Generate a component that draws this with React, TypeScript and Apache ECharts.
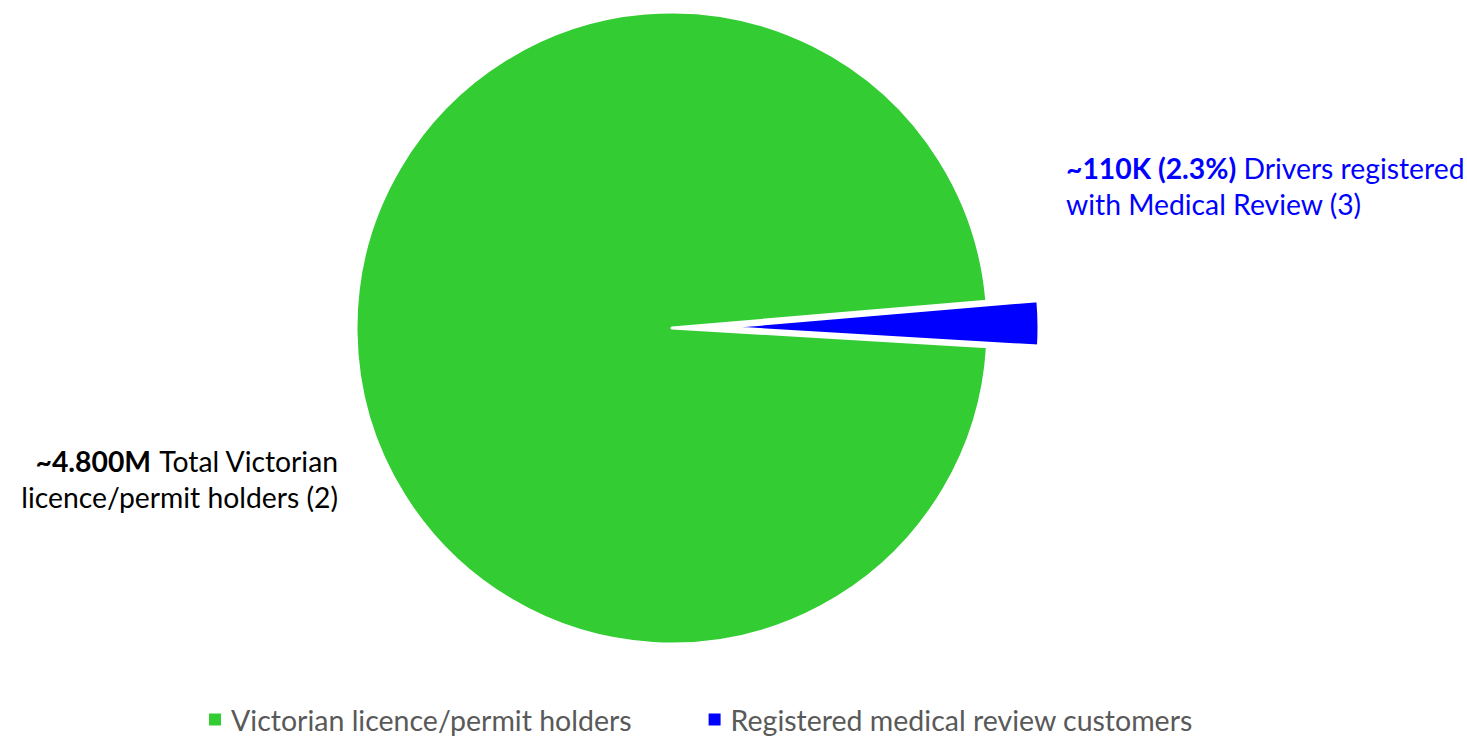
import React, { useEffect, useRef } from "react";
import * as echarts from "echarts";

const categories = ["Victorian licence/permit holders", "Registered medical review customers"];
const values = [4690000, 110000];
const colors = ["#33CC33", "#0000FF"];
const labelBold = ["~4.800M", "~110K (2.3%)"];
const labelRest = [["Total Victorian", "licence/permit holders (2)"], ["Drivers registered", "with Medical Review (3)"]];

const FONT = "Lato";

export default function App() {
  const ref = useRef<HTMLDivElement>(null);
  useEffect(() => {
    document.body.style.margin = "0";
    const chart = echarts.init(ref.current!, null, { renderer: "svg" });
    const labelText = (i: number) => `{b|${labelBold[i]}}{n| ${labelRest[i][0]}}\n{n|${labelRest[i][1]}}`;
    const rich = (color: string) => ({
      b: { fontFamily: FONT, fontSize: 28.3, fontWeight: "bold", fill: color, lineHeight: 36 },
      n: { fontFamily: FONT, fontSize: 28.3, fill: color, lineHeight: 36 },
    });
    chart.setOption({
      animation: false,
      backgroundColor: "#ffffff",
      legend: {
        data: categories,
        left: 202,
        top: 700,
        icon: "rect",
        itemWidth: 14,
        itemHeight: 14,
        itemGap: 75,
        selectedMode: false,
        textStyle: { fontFamily: FONT, fontSize: 28.5, lineHeight: 28, color: "#595959", padding: [0, 0, 0, 4] },
      },
      graphic: [
        {
          type: "text",
          x: 338,
          y: 479,
          style: {
            text: labelText(0),
            align: "right",
            verticalAlign: "middle",
            rich: rich("#000000"),
          },
        },
        {
          type: "text",
          x: 1066,
          y: 186,
          style: {
            text: labelText(1),
            align: "left",
            verticalAlign: "middle",
            rich: rich("#0000FF"),
          },
        },
      ],
      series: [
        {
          type: "pie",
          center: [672, 328],
          radius: 316,
          startAngle: 356.6,
          clockwise: true,
          selectedMode: "single",
          selectedOffset: 51,
          silent: true,
          itemStyle: { borderColor: "#ffffff", borderWidth: 3 },
          label: { show: false },
          labelLine: { show: false },
          data: categories.map((name, i) => ({
            name,
            value: values[i],
            selected: i === 1,
            itemStyle: { color: colors[i] },
          })),
        },
      ],
    });
    return () => chart.dispose();
  }, []);
  return <div ref={ref} style={{ width: 1467, height: 736 }} />;
}
